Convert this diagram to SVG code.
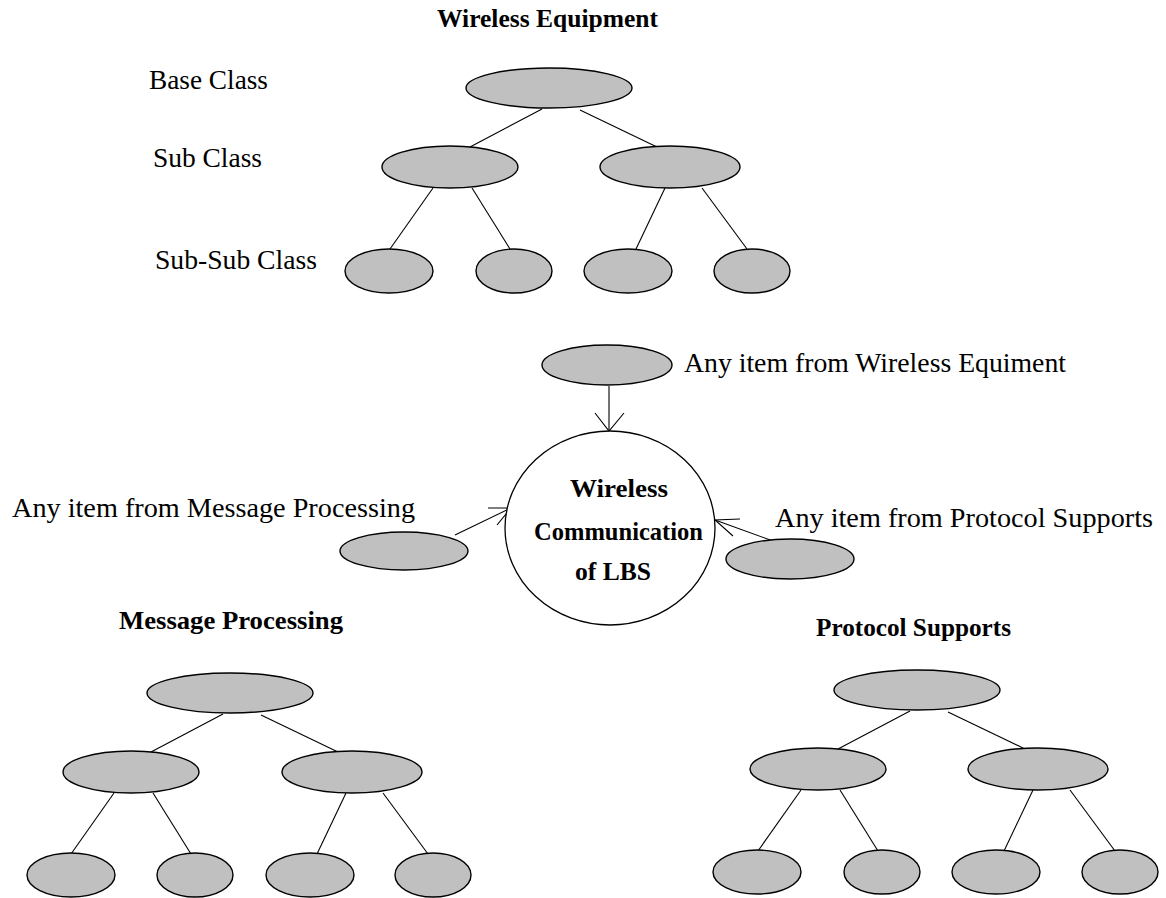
<svg xmlns="http://www.w3.org/2000/svg" width="1166" height="898" viewBox="0 0 1166 898">
  <style>
    .node { fill: #c0c0c0; stroke: #000; stroke-width: 1.4; }
    .hub { fill: #fff; stroke: #000; stroke-width: 1.3; }
    .edge { stroke: #000; stroke-width: 1.1; fill: none; }
    .label { font-family: "Liberation Serif", "Times New Roman", serif; font-size: 27.5px; fill: #000; }
    .title { font-family: "Liberation Serif", "Times New Roman", serif; font-size: 25.5px; font-weight: bold; fill: #000; }
  </style>
  <defs>
    <!-- class tree: one root, two sub classes, four sub-sub classes (coordinates relative to root) -->
    <g id="tree-edges">
      <line class="edge" x1="-7" y1="21" x2="-79" y2="59"/>
      <line class="edge" x1="31" y1="22" x2="108" y2="59"/>
      <line class="edge" x1="-116" y1="100" x2="-159" y2="161"/>
      <line class="edge" x1="-77" y1="100" x2="-39" y2="161"/>
      <line class="edge" x1="116" y1="100" x2="87" y2="161"/>
      <line class="edge" x1="153" y1="100" x2="198" y2="161"/>
    </g>
  </defs>

  <!-- connectors -->
  <g id="connectors">
    <use href="#tree-edges" transform="translate(549,88)"/>
    <use href="#tree-edges" transform="translate(230,693)"/>
    <use href="#tree-edges" transform="translate(917,690)"/>
    <!-- feeds into the central node -->
    <g id="edge-equipment">
      <line class="edge" x1="609" y1="386" x2="609" y2="431"/>
      <polyline class="edge" points="595,413 609,431 624,413"/>
    </g>
    <g id="edge-message">
      <line class="edge" x1="455" y1="535" x2="511" y2="508"/>
      <polyline class="edge" points="488,508 511,508 497,525"/>
    </g>
    <g id="edge-protocol">
      <line class="edge" x1="773" y1="541" x2="715" y2="520"/>
      <polyline class="edge" points="740,519 715,520 733,536"/>
    </g>
  </g>

  <!-- Wireless Equipment hierarchy -->
  <g id="wireless-equipment">
    <text class="title" x="437" y="27" textLength="221" lengthAdjust="spacingAndGlyphs">Wireless Equipment</text>
    <text class="label" x="149" y="89" textLength="119" lengthAdjust="spacingAndGlyphs">Base Class</text>
    <text class="label" x="153" y="167" textLength="109" lengthAdjust="spacingAndGlyphs">Sub Class</text>
    <text class="label" x="155" y="269" textLength="162" lengthAdjust="spacingAndGlyphs">Sub-Sub Class</text>
    <g id="we-base"><ellipse class="node" cx="549" cy="88" rx="83" ry="20"/></g>
    <g id="we-sub-1"><ellipse class="node" cx="450" cy="167" rx="68" ry="21"/></g>
    <g id="we-sub-2"><ellipse class="node" cx="670" cy="167" rx="70" ry="21"/></g>
    <g id="we-subsub-1"><ellipse class="node" cx="389" cy="271" rx="44" ry="22"/></g>
    <g id="we-subsub-2"><ellipse class="node" cx="514" cy="271" rx="38" ry="22"/></g>
    <g id="we-subsub-3"><ellipse class="node" cx="628" cy="271" rx="44" ry="22"/></g>
    <g id="we-subsub-4"><ellipse class="node" cx="752" cy="271" rx="38" ry="22"/></g>
  </g>

  <!-- central composition -->
  <g id="any-equipment">
    <ellipse class="node" cx="607" cy="365" rx="65" ry="20"/>
    <text class="label" x="684" y="372" textLength="382" lengthAdjust="spacingAndGlyphs">Any item from Wireless Equiment</text>
  </g>
  <g id="any-message">
    <ellipse class="node" cx="404" cy="551" rx="64" ry="19"/>
    <text class="label" x="12" y="517" textLength="403" lengthAdjust="spacingAndGlyphs">Any item from Message Processing</text>
  </g>
  <g id="any-protocol">
    <ellipse class="node" cx="790" cy="559" rx="64" ry="20"/>
    <text class="label" x="775" y="527" textLength="378" lengthAdjust="spacingAndGlyphs">Any item from Protocol Supports</text>
  </g>
  <g id="wireless-communication">
    <ellipse class="hub" cx="610" cy="528" rx="105" ry="97"/>
    <text class="title" x="570" y="497" textLength="98" lengthAdjust="spacingAndGlyphs">Wireless</text>
    <text class="title" x="534" y="540" textLength="169" lengthAdjust="spacingAndGlyphs">Communication</text>
    <text class="title" x="575" y="580" textLength="76" lengthAdjust="spacingAndGlyphs">of LBS</text>
  </g>

  <!-- Message Processing hierarchy -->
  <g id="message-processing">
    <text class="title" x="119" y="629" textLength="224" lengthAdjust="spacingAndGlyphs">Message Processing</text>
    <g id="mp-base"><ellipse class="node" cx="230" cy="693" rx="83" ry="20"/></g>
    <g id="mp-sub-1"><ellipse class="node" cx="131" cy="772" rx="68" ry="21"/></g>
    <g id="mp-sub-2"><ellipse class="node" cx="352" cy="772" rx="70" ry="21"/></g>
    <g id="mp-subsub-1"><ellipse class="node" cx="71" cy="875" rx="44" ry="22"/></g>
    <g id="mp-subsub-2"><ellipse class="node" cx="195" cy="875" rx="38" ry="22"/></g>
    <g id="mp-subsub-3"><ellipse class="node" cx="310" cy="875" rx="44" ry="22"/></g>
    <g id="mp-subsub-4"><ellipse class="node" cx="433" cy="875" rx="38" ry="22"/></g>
  </g>

  <!-- Protocol Supports hierarchy -->
  <g id="protocol-supports">
    <text class="title" x="816" y="636" textLength="195" lengthAdjust="spacingAndGlyphs">Protocol Supports</text>
    <g id="ps-base"><ellipse class="node" cx="917" cy="690" rx="83" ry="20"/></g>
    <g id="ps-sub-1"><ellipse class="node" cx="818" cy="769" rx="68" ry="21"/></g>
    <g id="ps-sub-2"><ellipse class="node" cx="1038" cy="769" rx="70" ry="21"/></g>
    <g id="ps-subsub-1"><ellipse class="node" cx="757" cy="872" rx="44" ry="22"/></g>
    <g id="ps-subsub-2"><ellipse class="node" cx="882" cy="872" rx="38" ry="22"/></g>
    <g id="ps-subsub-3"><ellipse class="node" cx="996" cy="872" rx="44" ry="22"/></g>
    <g id="ps-subsub-4"><ellipse class="node" cx="1120" cy="872" rx="38" ry="22"/></g>
  </g>
</svg>
